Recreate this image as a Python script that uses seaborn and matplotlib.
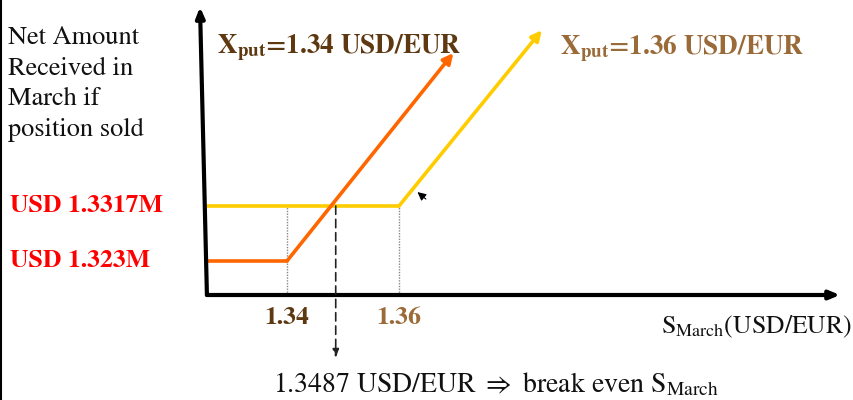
import numpy as np
import pandas as pd
import matplotlib.pyplot as plt
from matplotlib.lines import Line2D
import seaborn as sns

# payoff data (S in USD/EUR, value in USD M)
strikes = [1.34, 1.36]
floor_values = [1.323, 1.3317]
floor_labels = ["USD 1.323M", "USD 1.3317M"]
break_even = 1.3487
s_start = 1.3257
orange_x = [1.3257, 1.34, 1.3697]
orange_y = [1.323, 1.323, 1.3559]
yellow_x = [1.3257, 1.36, 1.3855]
yellow_y = [1.3317, 1.3317, 1.3595]
line_names = ["put 1.34", "put 1.36"]
line_colors = ["#FF6600", "#FFCC00"]
strike_colors = ["#5E3811", "#9A6A38"]

sns.set_style("white")
SERIF = ['STIXGeneral', 'DejaVu Serif']
plt.rcParams['font.family'] = SERIF
plt.rcParams['mathtext.fontset'] = 'stix'

# pixel scale helpers (x: 5600 px per unit, y: 6322 px per unit)
PX, PY = 5600.0, 6322.0

fig = plt.figure(figsize=(8.54, 4.0), dpi=100)
ax = fig.add_axes([0, 0, 1, 1])
ax.set_xlim(1.34 - 287 / PX, 1.34 + 567 / PX)
ax.set_ylim(1.3317 - 194 / PY, 1.3317 + 206 / PY)
ax.axis('off')

df = pd.DataFrame({
    "S": orange_x[:2] + yellow_x[:2],
    "V": orange_y[:2] + yellow_y[:2],
    "pos": [line_names[0]] * 2 + [line_names[1]] * 2,
})
sns.lineplot(data=df, x="S", y="V", hue="pos", palette=line_colors,
             sort=False, lw=2.6, legend=False, ax=ax)

# rising legs with arrow heads
for xs, ys, c in [(orange_x, orange_y, line_colors[0]), (yellow_x, yellow_y, line_colors[1])]:
    ax.annotate("", xy=(xs[2], ys[2]), xytext=(xs[1], ys[1]),
                arrowprops=dict(arrowstyle="-|>,head_length=0.6,head_width=0.3",
                                color=c, lw=2.6, shrinkA=0, shrinkB=0))

y_axis = 1.3317 - 89 / PY
# axes with arrows
ax.annotate("", xy=(1.34 + 553 / PX, y_axis), xytext=(s_start, y_axis),
            arrowprops=dict(arrowstyle="-|>,head_length=0.6,head_width=0.25",
                            color="black", lw=3, shrinkA=0, shrinkB=0))
ax.annotate("", xy=(1.34 - 87 / PX, 1.3317 + 199 / PY), xytext=(s_start, y_axis),
            arrowprops=dict(arrowstyle="-|>,head_length=0.6,head_width=0.25",
                            color="black", lw=3, shrinkA=0, shrinkB=0))

# dotted guides at strikes
for k in strikes:
    ax.plot([k, k], [y_axis, floor_values[1]], color="#888888", lw=1, ls=(0, (1, 1)))

# dashed break-even drop
ax.annotate("", xy=(break_even, 1.3317 - 152 / PY), xytext=(break_even, floor_values[1]),
            arrowprops=dict(arrowstyle="-|>,head_length=0.5,head_width=0.18",
                            color="#222222", lw=1.2, ls=(0, (5, 3)), shrinkA=0, shrinkB=0))

# small black arrow head near yellow kink
ax.annotate("", xy=(1.3633, 1.3339), xytext=(1.3648, 1.3328),
            arrowprops=dict(arrowstyle="-|>,head_length=0.5,head_width=0.25",
                            color="black", lw=0.8, shrinkA=0, shrinkB=0))

# texts
fig.text(8 / 854, 1 - 26 / 400, "Net Amount\nReceived in\nMarch if\nposition sold",
         fontsize=19, va="top", ha="left", linespacing=1.36, color="#111111")
for v, lab in zip(floor_values, floor_labels):
    ax.text(1.34 - 277 / PX, v, lab, color="#FF0000", fontsize=18.5,
            fontweight="bold", va="center", ha="left")

ax.text(1.34 - 70 / PX, 1.3317 + 158 / PY, r"X$_{\mathbf{put}}$=1.34 USD/EUR",
        color=strike_colors[0], fontsize=19.5, fontweight="bold", va="center", ha="left")
ax.text(1.34 + 273 / PX, 1.3317 + 158 / PY, r"X$_{\mathbf{put}}$=1.36 USD/EUR",
        color=strike_colors[1], fontsize=19.5, fontweight="bold", va="center", ha="left")

for k, c in zip(strikes, strike_colors):
    ax.text(k, y_axis - 23 / PY, f"{k:.2f}", color=c, fontsize=18.5,
            fontweight="bold", va="center", ha="center")

ax.text(1.34 + 565 / PX, y_axis - 32 / PY, r"S$_{\rm March}$(USD/EUR)",
        fontsize=18.5, va="center", ha="right", color="#111111")
ax.text(1.34 + 209 / PX, y_axis - 90 / PY,
        r"1.3487 USD/EUR $\Rightarrow$ break even S$_{\rm March}$",
        fontsize=20, va="center", ha="center", color="#111111")

# left border
fig.add_artist(Line2D([1.5 / 854, 1.5 / 854], [0, 1], color="black", lw=1.5,
                      transform=fig.transFigure))

fig.savefig("out.png", dpi=100)
